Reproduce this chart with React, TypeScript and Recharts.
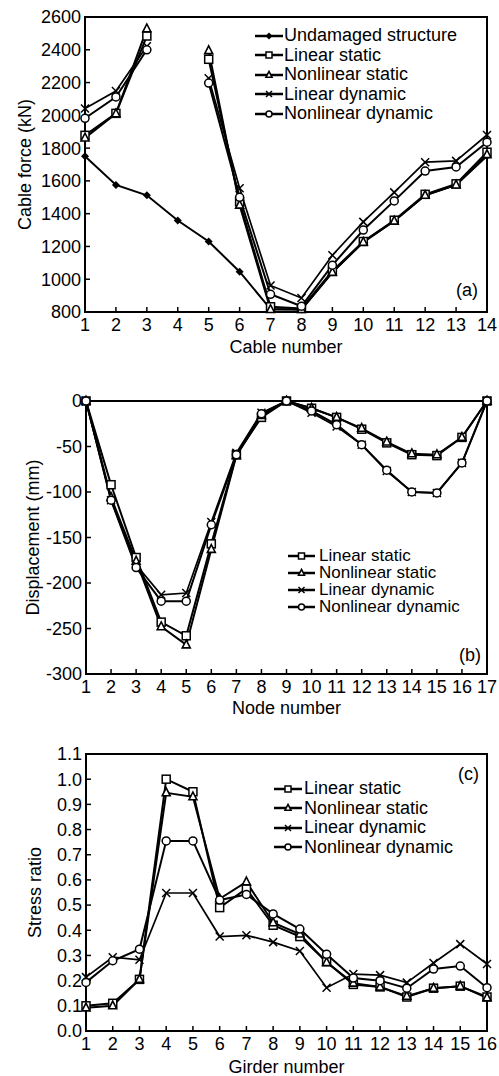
import { Line, LineChart, ReferenceArea, XAxis, YAxis } from 'recharts';

const FONT = '"Liberation Sans", Arial, sans-serif';
const FS = 18;

// (a) cable forces, kN — cable 4 is the removed one
const cables = [1, 2, 3, 4, 5, 6, 7, 8, 9, 10, 11, 12, 13, 14];
const undamagedA = [1750, 1575, 1512, 1358, 1230, 1046, 818, 815, 1042, 1228, 1355, 1512, 1575, 1752];
const linStaticA = [1878, 2012, 2484, null, 2342, 1472, 832, 822, 1050, 1230, 1360, 1518, 1582, 1775];
const nonStaticA = [1862, 2010, 2528, null, 2395, 1452, 815, 815, 1042, 1226, 1355, 1512, 1575, 1760];
const linDynA = [2042, 2148, 2422, null, 2226, 1555, 962, 885, 1146, 1350, 1530, 1714, 1722, 1880];
const nonDynA = [1982, 2112, 2400, null, 2197, 1500, 908, 835, 1086, 1300, 1478, 1660, 1685, 1836];
const yTicksA = [800, 1000, 1200, 1400, 1600, 1800, 2000, 2200, 2400, 2600];

// (b) girder displacement, mm
const nodes = [1, 2, 3, 4, 5, 6, 7, 8, 9, 10, 11, 12, 13, 14, 15, 16, 17];
const linStaticB = [0, -92, -172, -243, -258, -157, -59, -18, 0, -8, -18, -31, -46, -59, -60, -40, 0];
const nonStaticB = [0, -106, -176, -248, -268, -163, -60, -16, 0, -8, -18, -30, -45, -58, -59, -40, 0];
const linDynB = [0, -109, -180, -213, -211, -133, -57, -13, 0, -13, -28, -48, -77, -100, -101, -68, 0];
const nonDynB = [0, -109, -183, -220, -220, -136, -59, -14, 0, -11, -26, -48, -76, -100, -101, -68, 0];
const yTicksB = [-300, -250, -200, -150, -100, -50, 0];

// (c) girder stress ratio
const girders = [1, 2, 3, 4, 5, 6, 7, 8, 9, 10, 11, 12, 13, 14, 15, 16];
const linStaticC = [0.1, 0.11, 0.205, 1.0, 0.95, 0.49, 0.565, 0.42, 0.375, 0.275, 0.185, 0.175, 0.135, 0.17, 0.178, 0.135];
const nonStaticC = [0.092, 0.1, 0.205, 0.946, 0.93, 0.525, 0.592, 0.43, 0.385, 0.272, 0.19, 0.175, 0.138, 0.17, 0.178, 0.132];
const linDynC = [0.214, 0.293, 0.283, 0.548, 0.548, 0.375, 0.38, 0.353, 0.318, 0.172, 0.226, 0.222, 0.192, 0.27, 0.345, 0.266];
const nonDynC = [0.193, 0.279, 0.325, 0.755, 0.755, 0.52, 0.542, 0.465, 0.405, 0.305, 0.21, 0.2, 0.17, 0.246, 0.258, 0.172];
const yTicksC = [0, 0.1, 0.2, 0.3, 0.4, 0.5, 0.6, 0.7, 0.8, 0.9, 1.0, 1.1];

const dataA = cables.map((x, i) => ({
  x,
  undamaged: undamagedA[i],
  linStatic: linStaticA[i],
  nonStatic: nonStaticA[i],
  linDyn: linDynA[i],
  nonDyn: nonDynA[i],
}));
const dataB = nodes.map((x, i) => ({
  x,
  linStatic: linStaticB[i],
  nonStatic: nonStaticB[i],
  linDyn: linDynB[i],
  nonDyn: nonDynB[i],
}));
const dataC = girders.map((x, i) => ({
  x,
  linStatic: linStaticC[i],
  nonStatic: nonStaticC[i],
  linDyn: linDynC[i],
  nonDyn: nonDynC[i],
}));

type Kind = 'diamond' | 'square' | 'triangle' | 'cross' | 'circle';

const SERIES: { key: string; name: string; kind: Kind }[] = [
  { key: 'undamaged', name: 'Undamaged structure', kind: 'diamond' },
  { key: 'linStatic', name: 'Linear static', kind: 'square' },
  { key: 'nonStatic', name: 'Nonlinear static', kind: 'triangle' },
  { key: 'linDyn', name: 'Linear dynamic', kind: 'cross' },
  { key: 'nonDyn', name: 'Nonlinear dynamic', kind: 'circle' },
];

function Marker({ kind, cx, cy, s }: { kind: Kind; cx: number; cy: number; s: number }) {
  switch (kind) {
    case 'diamond':
      return <polygon points={`${cx},${cy - s} ${cx + s},${cy} ${cx},${cy + s} ${cx - s},${cy}`} fill="#000" />;
    case 'square':
      return <rect x={cx - s} y={cy - s} width={2 * s} height={2 * s} fill="#fff" stroke="#000" strokeWidth={1.5} />;
    case 'triangle':
      return (
        <polygon
          points={`${cx},${cy - s * 1.2} ${cx + s},${cy + s * 0.75} ${cx - s},${cy + s * 0.75}`}
          fill="#fff"
          stroke="#000"
          strokeWidth={1.6}
        />
      );
    case 'cross':
      return (
        <path
          d={`M${cx - s},${cy - s}L${cx + s},${cy + s}M${cx - s},${cy + s}L${cx + s},${cy - s}`}
          stroke="#000"
          strokeWidth={1.5}
        />
      );
    default:
      return <circle cx={cx} cy={cy} r={s} fill="#fff" stroke="#000" strokeWidth={1.5} />;
  }
}

const dotFor = (kind: Kind, s: number) => (p: any) => {
  if (p.cx == null || p.cy == null || p.value == null) return <g key={p.index} />;
  return (
    <g key={p.index}>
      <Marker kind={kind} cx={p.cx} cy={p.cy} s={s} />
    </g>
  );
};

// legend drawn as a plain overlay so it does not eat into the plot area
function LegendBox(props: {
  keys: string[];
  left: number;
  top: number;
  rowH: number;
  lineW: number;
  gap: number;
  fontSize?: number;
}) {
  return (
    <div
      style={{
        position: 'absolute',
        left: props.left,
        top: props.top,
        fontFamily: FONT,
        fontSize: props.fontSize ?? FS,
        color: '#000',
        lineHeight: `${props.rowH}px`,
      }}
    >
      {SERIES.filter((s) => props.keys.includes(s.key)).map((s) => (
        <div key={s.key} style={{ display: 'flex', alignItems: 'center', height: props.rowH, whiteSpace: 'nowrap' }}>
          <svg width={props.lineW} height={12} style={{ marginRight: props.gap, flex: 'none' }}>
            <line x1={0} y1={6} x2={props.lineW} y2={6} stroke="#000" strokeWidth={2.5} />
            <Marker kind={s.kind} cx={props.lineW / 2} cy={6} s={s.kind === 'diamond' ? 3.5 : 3} />
          </svg>
          <span>{s.name}</span>
        </div>
      ))}
    </div>
  );
}

const tickStyle = { fill: '#000', fontSize: FS, fontFamily: FONT };

const yLabel = (text: string, cx: number) => ({
  content: ({ viewBox }: any) => {
    const cy = viewBox.y + viewBox.height / 2;
    return (
      <text
        x={cx}
        y={cy}
        transform={`rotate(-90, ${cx}, ${cy})`}
        textAnchor="middle"
        dominantBaseline="central"
        fill="#000"
        fontSize={FS}
        fontFamily={FONT}
      >
        {text}
      </text>
    );
  },
});

interface PanelProps {
  data: any[];
  keys: string[];
  height: number;
  top: number;
  yWidth: number;
  xHeight: number;
  xTicks: number[];
  yTicks: number[];
  yFmt?: (v: number) => string;
  xLabel: string;
  xLabelOffset: number;
  yLabelText: string;
  yLabelX: number;
}

function Panel(p: PanelProps) {
  const x0 = p.xTicks[0];
  const x1 = p.xTicks[p.xTicks.length - 1];
  const y0 = p.yTicks[0];
  const y1 = p.yTicks[p.yTicks.length - 1];
  return (
    <LineChart width={499} height={p.height} data={p.data} margin={{ top: p.top, right: 12, bottom: 0, left: 0 }}>
      <XAxis
        type="number"
        dataKey="x"
        domain={[x0, x1]}
        ticks={p.xTicks}
        interval={0}
        stroke="#000"
        axisLine={{ stroke: '#000', strokeWidth: 2 }}
        tickLine={{ stroke: '#000', strokeWidth: 1.5 }}
        tickSize={-5}
        tickMargin={11}
        tick={tickStyle}
        height={p.xHeight}
        label={{
          value: p.xLabel,
          position: 'insideBottom',
          offset: p.xLabelOffset,
          fill: '#000',
          fontSize: FS,
          fontFamily: FONT,
        }}
      />
      <YAxis
        type="number"
        domain={[y0, y1]}
        ticks={p.yTicks}
        interval={0}
        width={p.yWidth}
        axisLine={{ stroke: '#000', strokeWidth: 2 }}
        tickLine={{ stroke: '#000', strokeWidth: 1.5 }}
        tickSize={-5}
        tickMargin={9}
        tick={tickStyle}
        tickFormatter={p.yFmt}
        label={yLabel(p.yLabelText, p.yLabelX)}
      />
      <ReferenceArea x1={x0} x2={x1} y1={y0} y2={y1} fill="none" stroke="#000" strokeWidth={2} fillOpacity={0} />
      {SERIES.filter((s) => p.keys.includes(s.key)).map((s) => (
        <Line
          key={s.key}
          dataKey={s.key}
          name={s.name}
          stroke="#000"
          strokeWidth={s.kind === 'cross' ? 1.7 : 2}
          dot={dotFor(s.kind, 4)}
          activeDot={false}
          connectNulls={false}
          isAnimationActive={false}
        />
      ))}
    </LineChart>
  );
}

const tag = (text: string, left: number, top: number) => (
  <div style={{ position: 'absolute', left, top, fontFamily: FONT, fontSize: FS, color: '#000', lineHeight: '20px' }}>
    {text}
  </div>
);

export default function App() {
  return (
    <div style={{ position: 'absolute', left: 0, top: 0, width: 499, height: 1076, background: '#fff' }}>
      <div style={{ position: 'absolute', left: 0, top: 0 }}>
        <Panel
          data={dataA}
          keys={['undamaged', 'linStatic', 'nonStatic', 'linDyn', 'nonDyn']}
          height={360}
          top={17}
          yWidth={85}
          xHeight={48}
          xTicks={cables}
          yTicks={yTicksA}
          xLabel="Cable number"
          xLabelOffset={7}
          yLabelText="Cable force (kN)"
          yLabelX={25}
        />
      </div>
      <div style={{ position: 'absolute', left: 0, top: 360 }}>
        <Panel
          data={dataB}
          keys={['linStatic', 'nonStatic', 'linDyn', 'nonDyn']}
          height={360}
          top={41}
          yWidth={86}
          xHeight={46}
          xTicks={nodes}
          yTicks={yTicksB}
          xLabel="Node number"
          xLabelOffset={6}
          yLabelText="Displacement (mm)"
          yLabelX={33}
        />
      </div>
      <div style={{ position: 'absolute', left: 0, top: 720 }}>
        <Panel
          data={dataC}
          keys={['linStatic', 'nonStatic', 'linDyn', 'nonDyn']}
          height={356}
          top={34}
          yWidth={86}
          xHeight={45}
          xTicks={girders}
          yTicks={yTicksC}
          yFmt={(v) => v.toFixed(1)}
          xLabel="Girder number"
          xLabelOffset={3}
          yLabelText="Stress ratio"
          yLabelX={35}
        />
      </div>
      <LegendBox keys={['undamaged', 'linStatic', 'nonStatic', 'linDyn', 'nonDyn']} left={255} top={26} rowH={19.5} lineW={28} gap={1} />
      <LegendBox
        keys={['linStatic', 'nonStatic', 'linDyn', 'nonDyn']}
        left={288}
        top={547}
        rowH={17}
        lineW={27}
        gap={4}
        fontSize={17}
      />
      <LegendBox keys={['linStatic', 'nonStatic', 'linDyn', 'nonDyn']} left={274} top={779} rowH={19.5} lineW={28} gap={2} />
      {tag('(a)', 456, 280)}
      {tag('(b)', 459, 645)}
      {tag('(c)', 458, 764)}
    </div>
  );
}
